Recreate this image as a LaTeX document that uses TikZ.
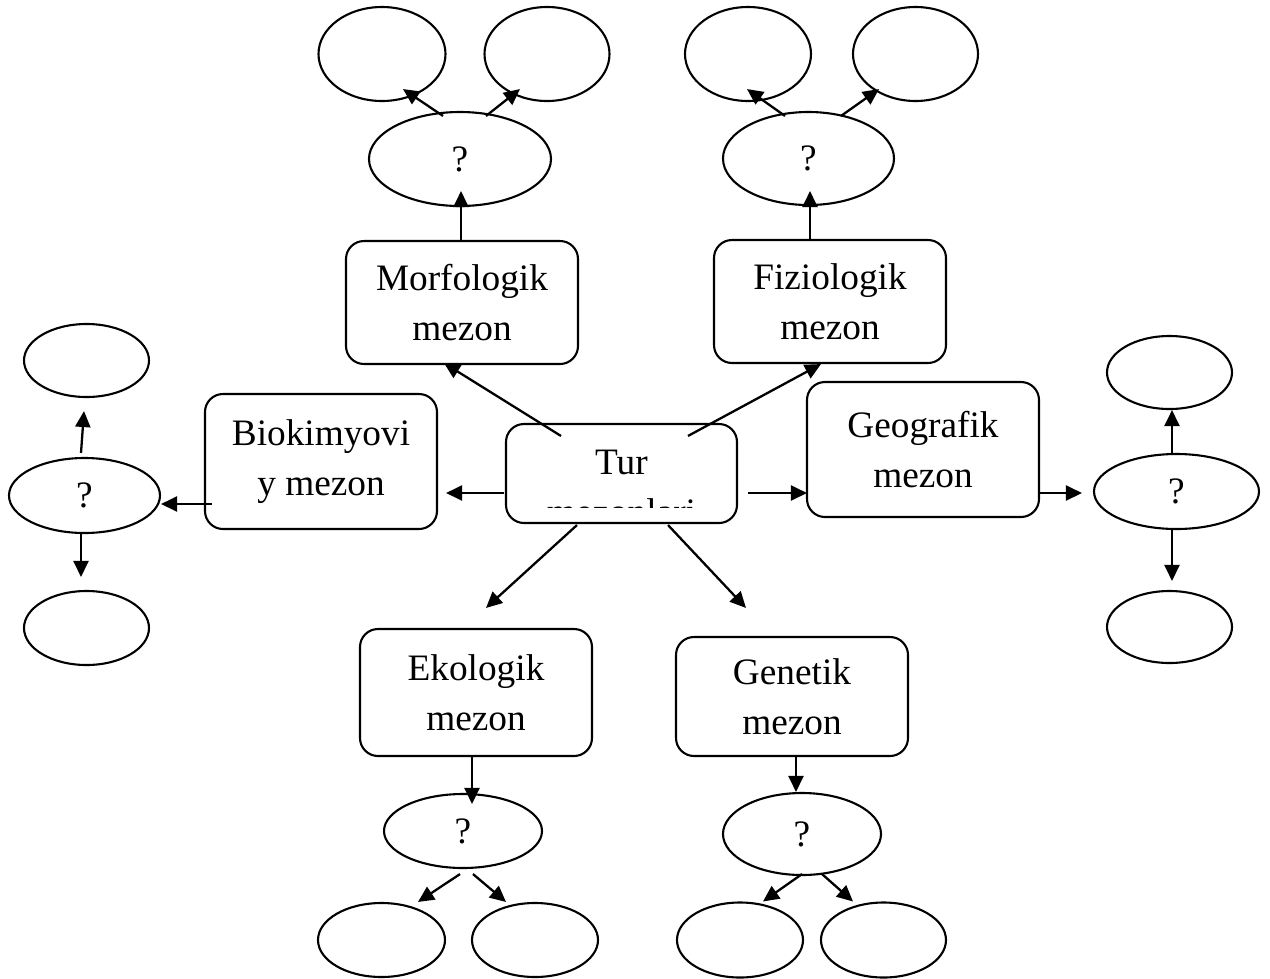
\documentclass[tikz,border=0pt]{standalone}
\usepackage{fontspec}
\setmainfont{Liberation Serif}
\usetikzlibrary{shapes.geometric,arrows.meta,calc}
\begin{document}
\begin{tikzpicture}[x=1pt,y=-1pt,
  every node/.style={font=\fontsize{37.3}{50}\selectfont},
  box/.style={draw,line width=2.1pt,rounded corners=18pt,align=center,inner sep=0pt,minimum width=232pt},
  oval/.style={draw,line width=2.1pt,ellipse,inner sep=0pt},
  conn/.style={line width=2.3pt,-{Triangle[length=16pt,width=15pt]}}]
\useasboundingbox (0,0) rectangle (1270,978);
% top left group
\node[oval,minimum width=127pt,minimum height=94pt] (tl1) at (382,54) {};
\node[oval,minimum width=125pt,minimum height=94pt] (tl2) at (547,54) {};
\node[oval,minimum width=182pt,minimum height=94pt] (qtl) at (460,159) {?};
% top right group
\node[oval,minimum width=126pt,minimum height=94pt] (tr1) at (748,54) {};
\node[oval,minimum width=125pt,minimum height=94pt] (tr2) at (915.5,54) {};
\node[oval,minimum width=171pt,minimum height=93pt] (qtr) at (808.5,158.5) {?};
% boxes
\node[box,minimum height=123pt] (morf) at (462,302.5) {Morfologik\\mezon};
\node[box,minimum height=123pt] (fiz) at (830,301.5) {Fiziologik\\mezon};
\node[box,minimum height=135pt] (bio) at (321,461.5) {Biokimyovi\\y mezon};
\node[box,minimum height=135pt] (geo) at (923,449.5) {Geografik\\mezon};
\node[box,minimum width=231pt,minimum height=99pt] (tur) at (621.5,473.5) {};
\begin{scope}
  \clip (506,424) rectangle (737,507);
  \node[align=center,inner sep=0pt] (turtext) at (621.5,487) {Tur\\mezonlari};
\end{scope}
\node[box,minimum height=127pt] (eko) at (476,692.5) {Ekologik\\mezon};
\node[box,minimum height=119pt] (gen) at (792,696.5) {Genetik\\mezon};
% left group
\node[oval,minimum width=125pt,minimum height=73pt] (l1) at (86.5,360.5) {};
\node[oval,minimum width=151pt,minimum height=75pt] (ql) at (84.5,495.5) {?};
\node[oval,minimum width=125pt,minimum height=74pt] (l2) at (86.5,628) {};
% right group
\node[oval,minimum width=125pt,minimum height=73pt] (r1) at (1169.5,372.5) {};
\node[oval,minimum width=165pt,minimum height=75pt] (qr) at (1176.5,491.5) {?};
\node[oval,minimum width=125pt,minimum height=72pt] (r2) at (1169.5,627) {};
% bottom left group
\node[oval,minimum width=158pt,minimum height=74pt] (qe) at (463,831) {?};
\node[oval,minimum width=127pt,minimum height=74pt] (e1) at (381.5,940) {};
\node[oval,minimum width=126pt,minimum height=74pt] (e2) at (535,940) {};
% bottom right group
\node[oval,minimum width=158pt,minimum height=82pt] (qg) at (802,834) {?};
\node[oval,minimum width=126pt,minimum height=75pt] (g1) at (740,940) {};
\node[oval,minimum width=125pt,minimum height=75pt] (g2) at (883.5,940) {};
% connectors
\draw[conn] ($(morf.north)+(-1,0)$) -- ($(qtl.south)+(1,-16)$);
\draw[conn] ($(qtl.north)+(-17,5)$) -- ($(tl1.south)+(21,-13)$);
\draw[conn] ($(qtl.north)+(26,5)$) -- ($(tl2.south)+(-27,-13)$);
\draw[conn] ($(fiz.north)+(-20,0)$) -- ($(qtr.south)+(1.5,-15)$);
\draw[conn] ($(qtr.north)+(-23.5,5)$) -- ($(tr1.south)+(-1,-13)$);
\draw[conn] ($(qtr.north)+(32.5,5)$) -- ($(tr2.south)+(-36.5,-13)$);
\draw[conn] ($(tur.north)+(-60.5,13)$) -- ($(morf.south)+(-18,-2)$);
\draw[conn] ($(tur.north)+(66.5,13)$) -- ($(fiz.south)+(-9,0)$);
\draw[conn] ($(tur.west)+(-1,19.5)$) -- ($(bio.east)+(8,31.5)$);
\draw[conn] ($(tur.east)+(10,19.5)$) -- ($(geo.west)+(1,43.5)$);
\draw[conn] ($(tur.south)+(-44.5,1)$) -- ($(eko.north)+(10,-20)$);
\draw[conn] ($(tur.south)+(46.5,1)$) -- ($(gen.north)+(-46,-28)$);
\draw[conn] ($(bio.west)+(8,42.5)$) -- ($(ql.east)+(0,8.5)$);
\draw[conn] ($(ql.north)+(-3.5,-4)$) -- ($(l1.south)+(-2.5,13)$);
\draw[conn] ($(ql.south)+(-3.5,0)$) -- ($(l2.north)+(-5.5,-13)$);
\draw[conn] ($(geo.east)+(-1,43.5)$) -- ($(qr.west)+(-11,1.5)$);
\draw[conn] ($(qr.north)+(-4.5,0)$) -- ($(r1.south)+(2.5,0)$);
\draw[conn] ($(qr.south)+(-4.5,0)$) -- ($(r2.north)+(2.5,-9)$);
\draw[conn] ($(eko.south)+(-4,0)$) -- ($(qe.north)+(9,11)$);
\draw[conn] ($(qe.south)+(-3,5)$) -- ($(e1.north)+(36.5,0)$);
\draw[conn] ($(qe.south)+(10,5)$) -- ($(e2.north)+(-29,0)$);
\draw[conn] ($(gen.south)+(4,0)$) -- ($(qg.north)+(-6,0)$);
\draw[conn] ($(qg.south)+(0,-2)$) -- ($(g1.north)+(23,0)$);
\draw[conn] ($(qg.south)+(20,-2)$) -- ($(g2.north)+(-30.5,0)$);
\end{tikzpicture}
\end{document}
